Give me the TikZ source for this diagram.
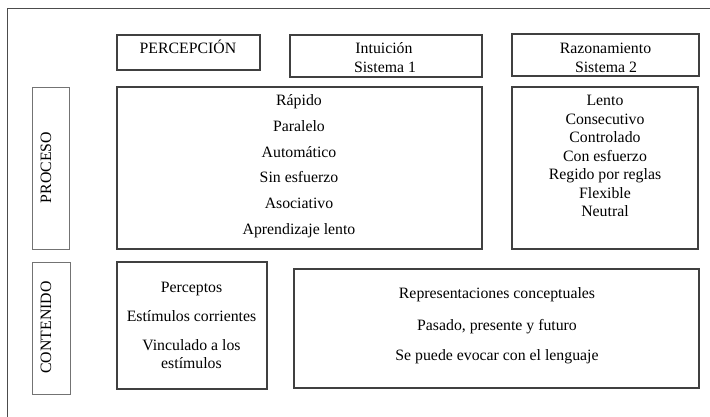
\documentclass[tikz,border=0pt]{standalone}
\usepackage{fontspec}
\setmainfont{Liberation Serif}
\begin{document}
\begin{tikzpicture}[x=1pt,y=-1pt,
  box/.style={draw=black!75,line width=1.1pt,rectangle,inner sep=0pt},
  sidebox/.style={box,draw=black!55,line width=0.9pt},
  lbl/.style={anchor=base,inner sep=0pt,font=\fontsize{15.8}{18}\selectfont,text=black},
  vlbl/.style={anchor=center,inner sep=0pt,rotate=90,font=\fontsize{15.8}{18}\selectfont,text=black}]
\useasboundingbox (0,0) rectangle (710,417);
% outer frame (top and left visible)
\coordinate (ftl) at (7.5,8.5);
\coordinate (ftr) at (712,8.5);
\coordinate (fbl) at (7.5,419);
\draw[draw=black!70,line width=1.3pt] (fbl) -- (ftl) -- (ftr);
% header boxes
\node[box,minimum width=143pt,minimum height=35pt] (perc) at (188.5,52.5) {};
\node[box,minimum width=192pt,minimum height=42pt] (intu) at (386,56) {};
\node[box,minimum width=187pt,minimum height=42pt] (razo) at (605.5,55) {};
% process row
\node[sidebox,minimum width=37pt,minimum height=162pt] (proc) at (50.5,168) {};
\node[box,minimum width=365pt,minimum height=162pt] (p1) at (299.5,168) {};
\node[box,minimum width=186pt,minimum height=162pt] (p2) at (605,168) {};
% content row
\node[sidebox,minimum width=38pt,minimum height=132pt] (cont) at (51,328) {};
\node[box,minimum width=150pt,minimum height=127pt] (c1) at (192,325.5) {};
\node[box,minimum width=405pt,minimum height=119pt] (c2) at (496.5,328.5) {};
% header texts
\node[lbl] (tperc) at (188,54) {PERCEPCIÓN};
\node[lbl] (tintu1) at (384,54) {Intuición};
\node[lbl] (tintu2) at (385,73) {Sistema 1};
\node[lbl] (trazo1) at (605.5,54) {Razonamiento};
\node[lbl] (trazo2) at (606,73) {Sistema 2};
% side labels
\node[vlbl] (tproc) at (46,167.5) {PROCESO};
\node[vlbl] (tcont) at (46,327.5) {CONTENIDO};
% system 1 process
\node[lbl] (a1) at (299,106) {Rápido};
\node[lbl] (a2) at (299,131.6) {Paralelo};
\node[lbl] (a3) at (299,157.2) {Automático};
\node[lbl] (a4) at (299,182.8) {Sin esfuerzo};
\node[lbl] (a5) at (299,208.4) {Asociativo};
\node[lbl] (a6) at (299,234) {Aprendizaje lento};
% system 2 process
\node[lbl] (b1) at (605,106) {Lento};
\node[lbl] (b2) at (605,124.5) {Consecutivo};
\node[lbl] (b3) at (605,143) {Controlado};
\node[lbl] (b4) at (605,161.5) {Con esfuerzo};
\node[lbl] (b5) at (605,180) {Regido por reglas};
\node[lbl] (b6) at (605,198.5) {Flexible};
\node[lbl] (b7) at (605,217) {Neutral};
% content texts
\node[lbl] (c1a) at (191.5,292) {Perceptos};
\node[lbl] (c1b) at (191.5,321) {Estímulos corrientes};
\node[lbl] (c1c) at (191.5,350) {Vinculado a los};
\node[lbl] (c1d) at (191.5,368.5) {estímulos};
\node[lbl] (c2a) at (497,298) {Representaciones conceptuales};
\node[lbl] (c2b) at (497,330) {Pasado, presente y futuro};
\node[lbl] (c2c) at (497,360) {Se puede evocar con el lenguaje};
\end{tikzpicture}
\end{document}
